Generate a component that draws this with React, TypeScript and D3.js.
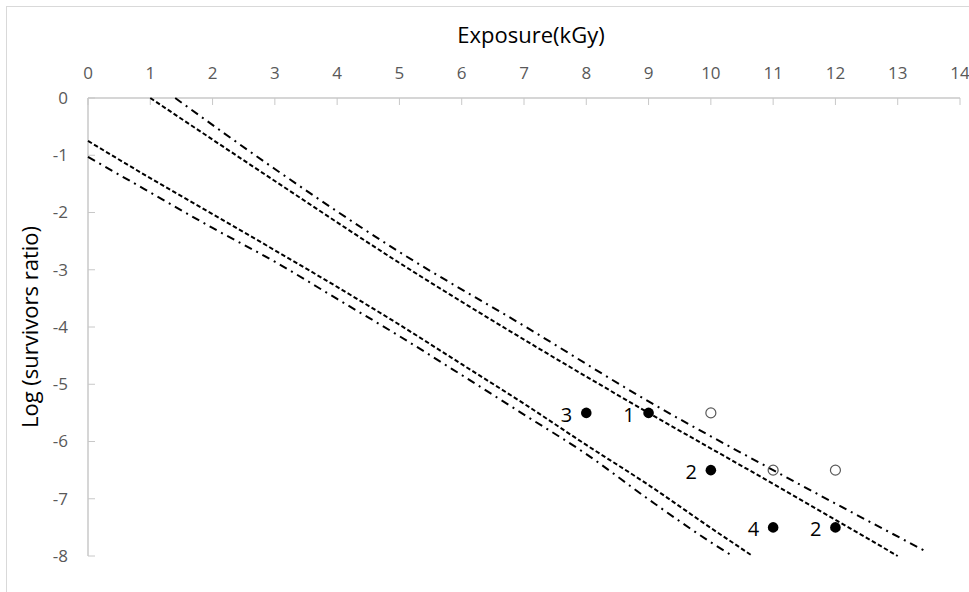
import React from "react";
import * as d3 from "d3";

const xTicks = [0, 1, 2, 3, 4, 5, 6, 7, 8, 9, 10, 11, 12, 13, 14];
const yTicks = [0, -1, -2, -3, -4, -5, -6, -7, -8];

const upperDashedX = [1, 3, 5, 7, 9, 11, 13];
const upperDashedY = [0, -1.45, -2.88, -4.22, -5.5, -6.74, -8.0];
const upperDashDotX = [1.4, 3, 5, 7, 9, 11, 13.47];
const upperDashDotY = [0, -1.24, -2.69, -3.98, -5.3, -6.5, -7.93];
const lowerDashedX = [0, 1, 2, 3, 4, 5, 6, 7, 8, 9, 10, 10.67];
const lowerDashedY = [-0.75, -1.4, -2.03, -2.66, -3.3, -3.96, -4.65, -5.34, -6.06, -6.76, -7.51, -8.0];
const lowerDashDotX = [0, 1, 2, 3, 4, 5, 6, 7, 8, 9, 10, 10.35];
const lowerDashDotY = [-1.03, -1.65, -2.27, -2.86, -3.51, -4.16, -4.84, -5.53, -6.22, -7.01, -7.76, -8.0];

const filledX = [8, 9, 10, 11, 12];
const filledY = [-5.5, -5.5, -6.5, -7.5, -7.5];
const filledLabels = ["3", "1", "2", "4", "2"];
const openX = [10, 11, 12];
const openY = [-5.5, -6.5, -6.5];

const FONT = "'Open Sans', 'Noto Sans', sans-serif";

export default function App() {
  const x = d3.scaleLinear().domain([0, 14]).range([88, 960]);
  const y = d3.scaleLinear().domain([0, -8]).range([98, 556]);

  const line = d3
    .line<[number, number]>()
    .x((d) => x(d[0]))
    .y((d) => y(d[1]))
    .curve(d3.curveMonotoneX);

  const mk = (xs: number[], ys: number[]) => xs.map((v, i) => [v, ys[i]] as [number, number]);

  const curves = [
    { d: line(mk(upperDashedX, upperDashedY)), dash: "4.5,2.5" },
    { d: line(mk(upperDashDotX, upperDashDotY)), dash: "8,5,2,5" },
    { d: line(mk(lowerDashedX, lowerDashedY)), dash: "4.5,2.5" },
    { d: line(mk(lowerDashDotX, lowerDashDotY)), dash: "8,5,2,5" },
  ];

  return (
    <svg
      width={969}
      height={592}
      style={{ position: "absolute", left: 0, top: 0, background: "#fff" }}
    >
      <rect x={6.5} y={6.5} width={1000} height={1000} fill="#fff" stroke="#d9d9d9" strokeWidth={1} />
      <text x={531} y={43} textAnchor="middle" fontFamily={FONT} fontSize={22} fill="#000">
        Exposure(kGy)
      </text>
      <text
        transform={`translate(38,${(y(0) + y(-8)) / 2}) rotate(-90)`}
        textAnchor="middle"
        fontFamily={FONT}
        fontSize={22}
        fill="#000"
      >
        Log (survivors ratio)
      </text>
      {/* axes */}
      <line x1={x(0)} x2={x(14)} y1={y(0)} y2={y(0)} stroke="#c8c8c8" strokeWidth={1.5} />
      <line x1={x(0)} x2={x(0)} y1={y(0)} y2={y(-8)} stroke="#c8c8c8" strokeWidth={1.5} />
      {xTicks.map((t) => (
        <g key={"xt" + t}>
          <line x1={x(t)} x2={x(t)} y1={y(0)} y2={y(0) + 7} stroke="#c8c8c8" strokeWidth={1} />
          <text x={x(t)} y={78.5} textAnchor="middle" fontFamily={FONT} fontSize={17} fill="#595959">
            {t}
          </text>
        </g>
      ))}
      {yTicks.map((t) => (
        <g key={"yt" + t}>
          <line x1={x(0)} x2={x(0) + 7} y1={y(t)} y2={y(t)} stroke="#c8c8c8" strokeWidth={1} />
          <text
            x={68}
            y={y(t)}
            dy="0.35em"
            textAnchor="end"
            fontFamily={FONT}
            fontSize={17}
            fill="#595959"
          >
            {t === 0 ? "0" : "-" + Math.abs(t)}
          </text>
        </g>
      ))}
      {curves.map((c, i) => (
        <path key={"c" + i} d={c.d || ""} fill="none" stroke="#000" strokeWidth={2} strokeDasharray={c.dash} />
      ))}
      {openX.map((v, i) => (
        <circle key={"o" + i} cx={x(v)} cy={y(openY[i])} r={5} fill="none" stroke="#595959" strokeWidth={1.2} />
      ))}
      {filledX.map((v, i) => (
        <g key={"f" + i}>
          <circle cx={x(v)} cy={y(filledY[i])} r={5.3} fill="#000" />
          <text
            x={x(v) - 14}
            y={y(filledY[i]) + 2}
            dy="0.35em"
            textAnchor="end"
            fontFamily={FONT}
            fontSize={20}
            fill="#000"
          >
            {filledLabels[i]}
          </text>
        </g>
      ))}
    </svg>
  );
}
